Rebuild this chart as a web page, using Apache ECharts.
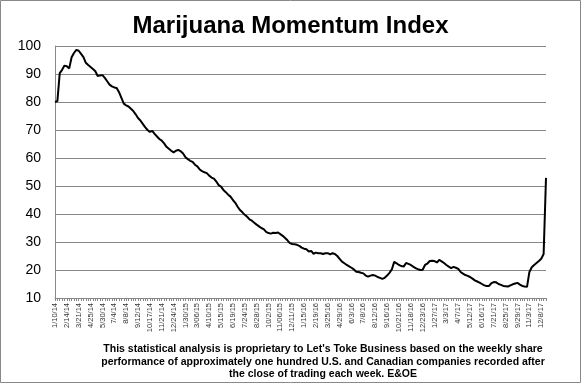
<!DOCTYPE html>
<html>
<head>
<meta charset="utf-8">
<script src="https://cdn.jsdelivr.net/npm/echarts@6/dist/echarts.min.js"></script>
<style>html,body{margin:0;padding:0;background:#fff;}#c{width:581px;height:385px;}</style>
</head>
<body>
<div id="c"></div>
<script>
// Tick labels shown every 5th week
var tickLabels = ["1/10/14","2/14/14","3/21/14","4/25/14","5/30/14","7/4/14","8/8/14","9/12/14","10/17/14","11/21/14","12/24/14","1/30/15","3/06/15","4/10/15","5/15/15","6/19/15","7/24/15","8/28/15","10/2/15","11/06/15","12/11/15","1/15/16","2/19/16","3/25/16","4/29/16","6/3/16","7/8/16","8/12/16","9/16/16","10/21/16","11/18/16","12/23/16","1/27/17","3/3/17","4/7/17","5/12/17","6/16/17","7/21/17","8/25/17","9/29/17","11/3/17","12/8/17"];
var labelEvery = 5;

// Weekly index values
var indexValues = [
80,80.3,90.3,91.5,93,92.8,92,96,97.5,98.6,
98.3,97.2,96,94,93.2,92.5,91.8,91,89.3,89.5,
89.6,88.6,87.4,86.2,85.6,85.2,85,83.5,81.5,79.4,
78.8,78.4,77.6,76.8,75.6,74.3,73.4,72.2,71,70,
69.3,69.7,68.6,67.7,66.8,66.2,65.2,64,63.3,62.6,
62,62.6,62.9,62.4,61.6,60.3,59.6,59,58.6,57.6,
57,55.9,55.3,54.9,54.6,53.7,53,52.6,51.6,50.3,
49.8,48.6,47.8,46.9,46.2,45,44,42.6,41.4,40.6,
39.7,39,38.1,37.6,36.9,36.2,35.6,35,34.6,33.6,
33.2,33,33.3,33.2,33.4,32.8,32.2,31.4,30.6,29.6,
29.3,29.2,29,28.6,28,27.6,27.4,26.6,26.8,25.8,
26.2,26,26,25.7,26,26,25.6,26,25.7,25,
24,23,22.4,21.8,21.3,20.8,20.2,19.4,19.3,19,
18.8,18,17.6,18,18.2,18,17.5,17.2,16.8,17.2,
18,19,20.2,22.9,22.4,21.8,21.4,21.2,22.5,22.2,
21.8,21.2,20.7,20.3,20,20.1,21.8,22.3,23.2,23.3,
23.2,22.7,23.6,23.1,22.5,21.8,21.2,20.7,21.1,20.8,
20.4,19.3,18.7,18.2,17.9,17.5,16.9,16.3,15.9,15.5,
15,14.5,14.3,14.3,15.3,15.7,15.6,15,14.7,14.3,
14.2,14.1,14.5,14.9,15.2,15.4,14.8,14.3,14.1,14,
19.3,21,21.8,22.5,23.2,24,25.7,52.9
];

var categories = indexValues.map(function(v, i){ return i; });

var chart = echarts.init(document.getElementById('c'), null, {renderer:'canvas'});
chart.setOption({
  animation: false,
  backgroundColor: '#fff',
  title: {
    text: 'Marijuana Momentum Index',
    left: 'center',
    top: 9,
    textStyle: {fontFamily: 'Liberation Sans, Arial', fontWeight: 'bold', fontSize: 24, color: '#000'}
  },
  grid: {left: 55, right: 35, top: 46, bottom: 87},
  xAxis: {
    type: 'category',
    data: categories,
    boundaryGap: false,
    axisLine: {lineStyle: {color: '#888', width: 1}},
    axisTick: {show: true, interval: 0, length: 3, lineStyle: {color: '#888'}},
    axisLabel: {
      interval: labelEvery - 1,
      rotate: 90,
      margin: 5,
      fontFamily: 'Liberation Sans, Arial',
      fontSize: 7.5,
      color: '#333',
      formatter: function(v){ var i = +v; return (i % labelEvery === 0 && tickLabels[i/labelEvery]) ? tickLabels[i/labelEvery] : ''; }
    },
    splitLine: {show: false}
  },
  yAxis: {
    type: 'value',
    min: 10, max: 100, interval: 10,
    axisLine: {show: true, lineStyle: {color: '#888', width: 1}},
    axisTick: {show: false},
    axisLabel: {fontFamily: 'Liberation Sans, Arial', fontSize: 14, color: '#000', margin: 14},
    splitLine: {lineStyle: {color: '#888', width: 1}}
  },
  series: [{
    type: 'line',
    data: indexValues,
    showSymbol: false,
    symbol: 'none',
    lineStyle: {color: '#000', width: 2},
    z: 5
  }],
  graphic: [
    {type: 'rect', shape: {x: 0.5, y: 0.5, width: 580, height: 382}, style: {fill: 'none', stroke: '#888', lineWidth: 1}},
    {type: 'text', x: 323, y: 343, style: {
      text: "This statistical analysis is proprietary to Let's Toke Business based on the weekly share\nperformance of approximately one hundred U.S. and Canadian companies recorded after\nthe close of trading each week. E&OE",
      textAlign: 'center',
      font: 'bold 10.5px "Liberation Sans", Arial', fill: '#000', lineHeight: 12.5
    }}
  ]
});
</script>
</body>
</html>
